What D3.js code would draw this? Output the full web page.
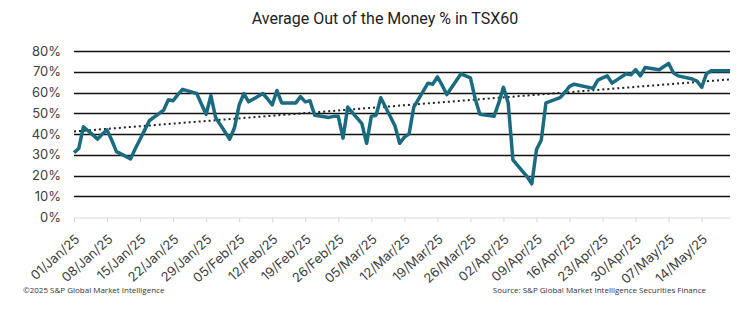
<!DOCTYPE html>
<html>
<head>
<meta charset="utf-8">
<script src="https://cdn.jsdelivr.net/npm/d3@7"></script>
<style>
  body { margin: 0; background: #fff; }
  svg { display: block; }
</style>
</head>
<body>
<script>
'use strict';

// daily closes, business days only
const dates = [
  '2025-01-01','2025-01-02','2025-01-03','2025-01-06','2025-01-07','2025-01-08','2025-01-09','2025-01-10',
  '2025-01-13','2025-01-14','2025-01-15','2025-01-16','2025-01-17','2025-01-20','2025-01-21','2025-01-22',
  '2025-01-23','2025-01-24','2025-01-27','2025-01-28','2025-01-29','2025-01-30','2025-01-31',
  '2025-02-03','2025-02-04','2025-02-05','2025-02-06','2025-02-07','2025-02-10','2025-02-11','2025-02-12',
  '2025-02-13','2025-02-14','2025-02-17','2025-02-18','2025-02-19','2025-02-20','2025-02-21','2025-02-24',
  '2025-02-25','2025-02-26','2025-02-27','2025-02-28',
  '2025-03-03','2025-03-04','2025-03-05','2025-03-06','2025-03-07','2025-03-10','2025-03-11','2025-03-12',
  '2025-03-13','2025-03-14','2025-03-17','2025-03-18','2025-03-19','2025-03-20','2025-03-21','2025-03-24',
  '2025-03-25','2025-03-26','2025-03-27','2025-03-28','2025-03-31',
  '2025-04-01','2025-04-02','2025-04-03','2025-04-04','2025-04-07','2025-04-08','2025-04-09','2025-04-10',
  '2025-04-11','2025-04-14','2025-04-15','2025-04-16','2025-04-17','2025-04-21','2025-04-22','2025-04-23',
  '2025-04-24','2025-04-25','2025-04-28','2025-04-29','2025-04-30',
  '2025-05-01','2025-05-02','2025-05-05','2025-05-06','2025-05-07','2025-05-08','2025-05-09','2025-05-12',
  '2025-05-13','2025-05-14','2025-05-15','2025-05-16','2025-05-20'
];

// average out-of-the-money %
const otmPct = [
  31, 33, 43.5, 37.5, 40, 42, 37, 31.5,
  28, 33, 37.5, 42, 46.5, 51.5, 56.5, 56,
  59, 61.5, 59.5, 54.5, 49.5, 58.5, 48,
  37.5, 43, 54, 59.5, 55.5, 59.5, 57, 54,
  61, 55, 55, 58, 55.5, 56, 49, 48,
  48.5, 48.5, 38, 53,
  45, 35.5, 48.5, 49, 57.5, 44, 35.5, 38.5,
  40, 53, 64.5, 64, 67.5, 63.5, 59, 69,
  68, 67, 57, 49.5, 48.5,
  55, 62.5, 55, 27.5, 19.5, 16, 32.5, 37,
  55, 57.5, 60, 63, 64, 62, 66, 67,
  68, 64.5, 69, 68.5, 71,
  68, 72, 71, 72.5, 74, 69.5, 68, 66.5,
  65.5, 62.5, 69, 70.5, 70.5
];

const yTicks = [0, 10, 20, 30, 40, 50, 60, 70, 80];
const xTickDates = [
  '2025-01-01','2025-01-08','2025-01-15','2025-01-22','2025-01-29','2025-02-05','2025-02-12',
  '2025-02-19','2025-02-26','2025-03-05','2025-03-12','2025-03-19','2025-03-26','2025-04-02',
  '2025-04-09','2025-04-16','2025-04-23','2025-04-30','2025-05-07','2025-05-14'
];

const titleText = 'Average Out of the Money % in TSX60';
const copyrightText = '\u00a92025 S&P Global Market Intelligence';
const sourceText = 'Source: S&P Global Market Intelligence Securities Finance';

const width = 751, height = 324;
const parse = d3.utcParse('%Y-%m-%d');
const fmt = d3.utcFormat('%d/%b/%y');

const rows = dates.map((d, i) => ({ date: parse(d), value: otmPct[i] }));

const svg = d3.select('body').append('svg')
  .attr('width', width)
  .attr('height', height);

const x = d3.scaleUtc()
  .domain([parse('2025-01-01'), parse('2025-05-20')])
  .range([74, 730]);

const y = d3.scaleLinear()
  .domain([0, 80])
  .range([217, 51]);

// title
svg.append('text')
  .attr('x', 385)
  .attr('y', 24)
  .attr('text-anchor', 'middle')
  .style('font-family', '"Liberation Sans Narrow", "Roboto", sans-serif')
  .style('font-size', '16px')
  .style('fill', '#222')
  .text(titleText);

// horizontal gridlines
svg.append('g')
  .selectAll('line')
  .data(yTicks.filter(t => t > 0))
  .enter()
  .append('line')
  .attr('x1', 74)
  .attr('x2', 730)
  .attr('y1', d => Math.round(y(d)) + 0.5)
  .attr('y2', d => Math.round(y(d)) + 0.5)
  .attr('stroke', '#111')
  .attr('stroke-width', 1.3);

// y axis labels, no domain line
const yAxis = d3.axisLeft(y)
  .tickValues(yTicks)
  .tickSize(0)
  .tickPadding(0)
  .tickFormat(d => d + '%');

svg.append('g')
  .attr('transform', 'translate(61,0)')
  .call(yAxis)
  .call(g => g.select('.domain').remove())
  .selectAll('text')
  .style('font-family', 'Inter, "Open Sans", sans-serif')
  .style('font-size', '13px')
  .style('fill', '#404040');

// x axis: light baseline with small ticks
const xAxis = d3.axisBottom(x)
  .tickValues(xTickDates.map(parse))
  .tickSize(5)
  .tickSizeOuter(0)
  .tickFormat(fmt);

const gx = svg.append('g')
  .attr('transform', 'translate(0,' + (y(0) + 0.5) + ')')
  .call(xAxis);

gx.select('.domain').attr('stroke', '#d9d9d9');
gx.selectAll('.tick line').attr('stroke', '#d9d9d9');
gx.selectAll('.tick text')
  .attr('text-anchor', 'end')
  .attr('dx', 0)
  .attr('dy', 0)
  .attr('y', 0)
  .attr('transform', 'translate(6,23) rotate(-42)')
  .style('font-family', 'Inter, "Open Sans", sans-serif')
  .style('font-size', '13px')
  .style('fill', '#404040');

// least squares trend over the dates
const xs = rows.map(r => +r.date);
const xMean = d3.mean(xs);
const yMean = d3.mean(otmPct);
const slope = d3.sum(rows, r => (+r.date - xMean) * (r.value - yMean)) /
  d3.sum(xs, v => (v - xMean) * (v - xMean));
const trendAt = t => yMean + slope * (+t - xMean);
const ends = [rows[0].date, rows[rows.length - 1].date];

svg.append('line')
  .attr('x1', x(ends[0]))
  .attr('x2', x(ends[1]))
  .attr('y1', y(trendAt(ends[0])))
  .attr('y2', y(trendAt(ends[1])))
  .attr('stroke', '#222')
  .attr('stroke-width', 2)
  .attr('stroke-dasharray', '2,3');

// main series
const line = d3.line()
  .x(d => x(d.date))
  .y(d => y(d.value));

svg.append('path')
  .datum(rows)
  .attr('d', line)
  .attr('fill', 'none')
  .attr('stroke', '#1a6b80')
  .attr('stroke-width', 3.5)
  .attr('stroke-linejoin', 'round');

// footer
svg.append('text')
  .attr('x', 23)
  .attr('y', 293)
  .style('font-family', '"Open Sans", sans-serif')
  .style('font-size', '8px')
  .style('fill', '#333')
  .text(copyrightText);

svg.append('text')
  .attr('x', 706)
  .attr('y', 293)
  .attr('text-anchor', 'end')
  .style('font-family', '"Open Sans", sans-serif')
  .style('font-size', '8px')
  .style('fill', '#333')
  .text(sourceText);
</script>
</body>
</html>
